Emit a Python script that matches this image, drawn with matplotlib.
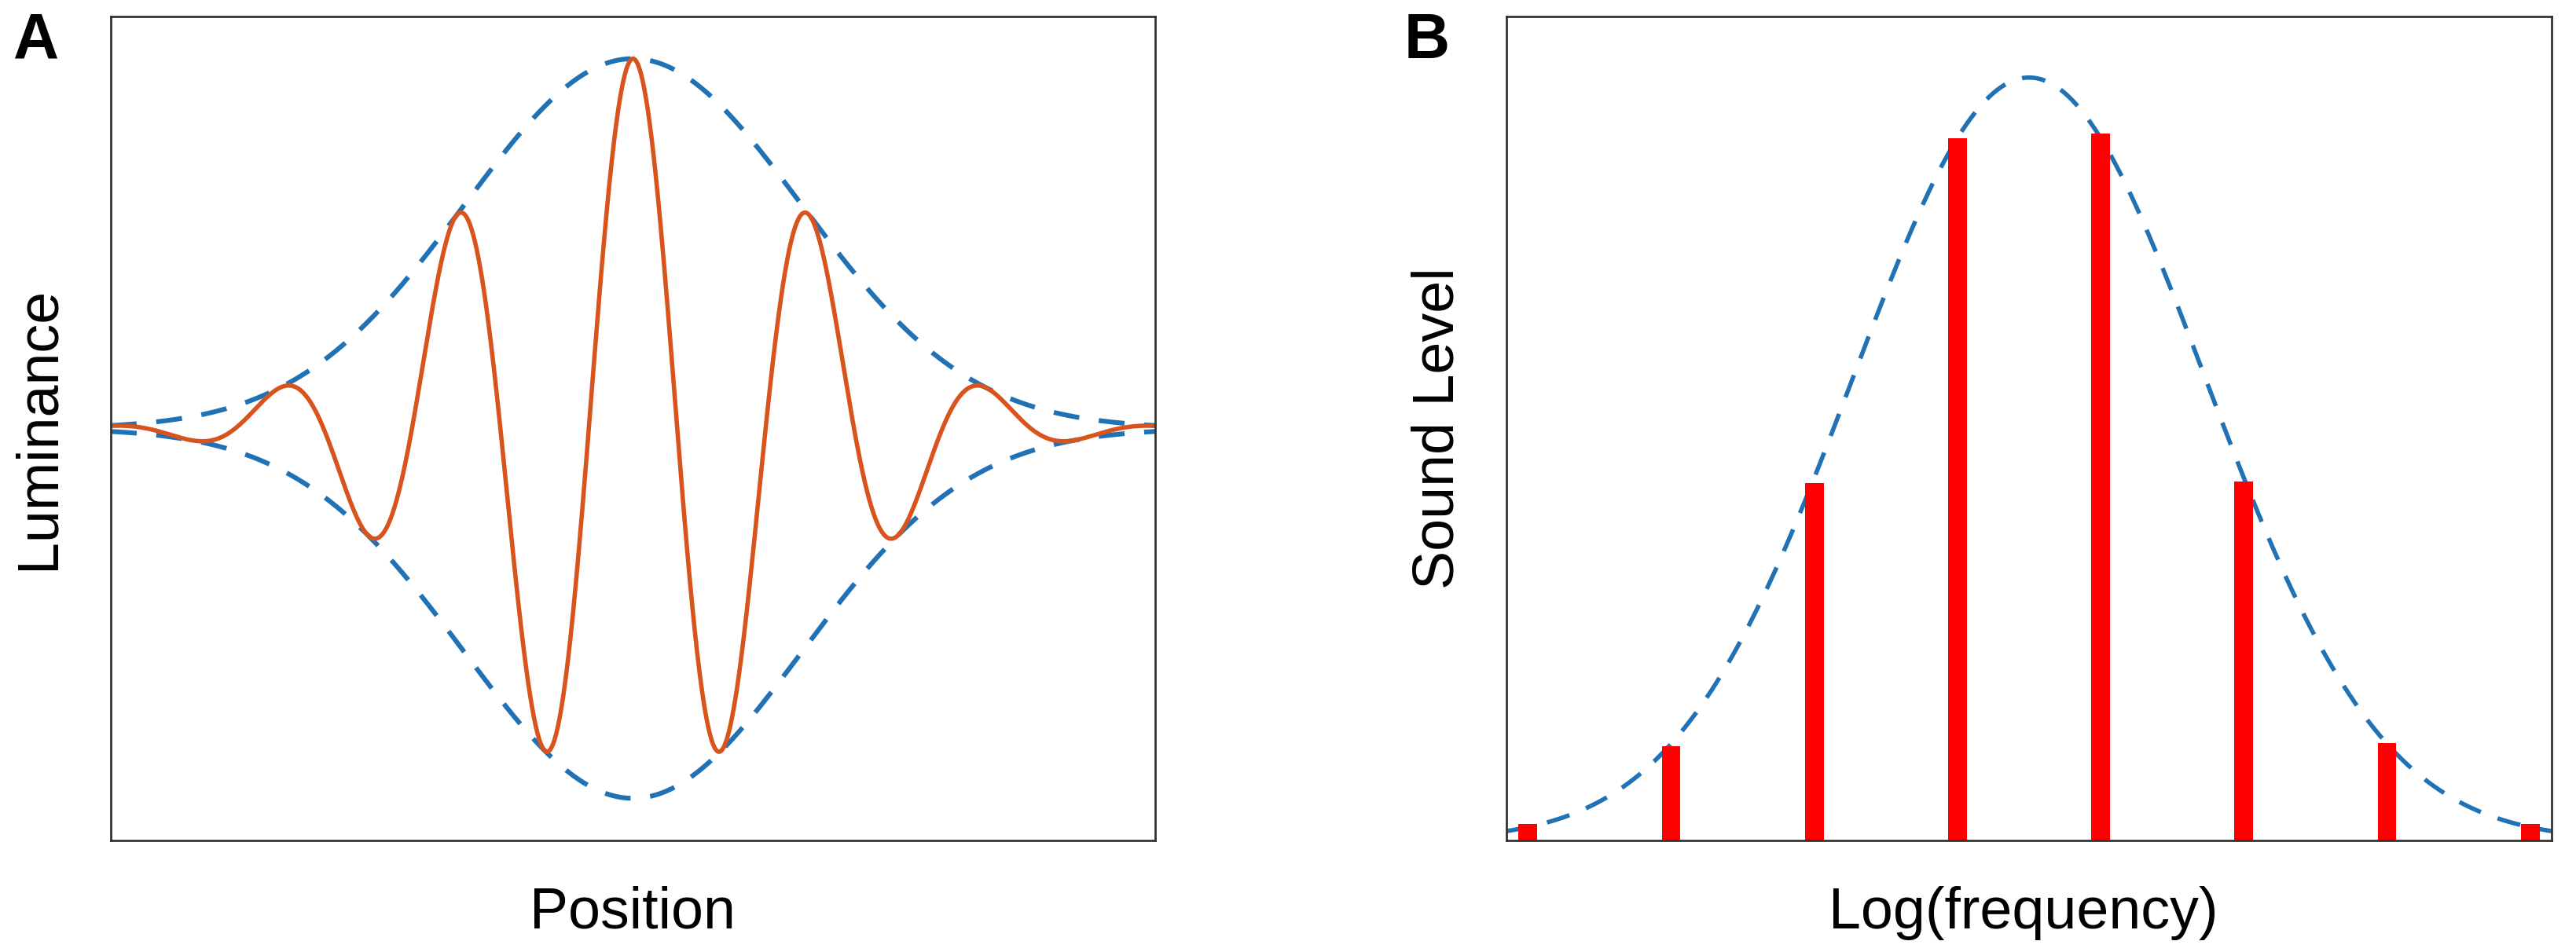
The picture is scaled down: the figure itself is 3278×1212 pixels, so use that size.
"""Two-panel schematic: Gabor luminance profile (A) and a harmonic-complex spectrum (B)."""

import numpy as np
import matplotlib

matplotlib.use("Agg")
import matplotlib.pyplot as plt  # noqa: E402

plt.rcParams["font.family"] = ["Liberation Sans", "DejaVu Sans"]

# --- panel A: Gabor patch profile (x scaled to -1..1)
gabor_center = 0.0
gabor_sigma = 0.322      # Gaussian envelope width
gabor_period = 0.3386    # carrier period
gabor_amplitude = 1.0
position_range = (-1.0, 1.0)
luminance_range = (-1.114, 1.114)

# --- panel B: spectral components (bar heights relative to envelope peak)
component_positions = [0, 1, 2, 3, 4, 5, 6, 7]
component_levels = [0.022, 0.124, 0.468, 0.920, 0.927, 0.471, 0.128, 0.022]
spectrum_center = 3.5
spectrum_sigma = 1.23
spectrum_peak = 1.0
logfreq_range = (-0.15, 7.15)
level_range = (0.0, 1.08)

BLUE = "#2171b5"
ORANGE = "#d9541c"
RED = "#ff0000"
FRAME = "#333333"

W, H, DPI = 3278, 1212, 200
fig = plt.figure(figsize=(W / DPI, H / DPI), dpi=DPI)


def px_axes(left, top, right, bottom):
    return fig.add_axes([left / W, 1 - bottom / H, (right - left) / W, (bottom - top) / H])


def style_frame(ax):
    ax.set_xticks([])
    ax.set_yticks([])
    for sp in ax.spines.values():
        sp.set_color(FRAME)
        sp.set_linewidth(1.0)


dash = (0, (5.4, 4.1))

# ---------------- panel A
ax1 = px_axes(141, 21, 1470, 1070)
x = np.linspace(*position_range, 2000)
env = gabor_amplitude * np.exp(-((x - gabor_center) ** 2) / (2 * gabor_sigma ** 2))
carrier = np.cos(2 * np.pi * (x - gabor_center) / gabor_period)
ax1.plot(x, env, color=BLUE, lw=2.2, linestyle=dash)
ax1.plot(x, -env, color=BLUE, lw=2.2, linestyle=dash)
ax1.plot(x, env * carrier, color=ORANGE, lw=2.0)
ax1.set_xlim(position_range)
ax1.set_ylim(luminance_range)
style_frame(ax1)

# ---------------- panel B
ax2 = px_axes(1917, 21, 3247, 1070)
xf = np.linspace(*logfreq_range, 1000)
spec = spectrum_peak * np.exp(-((xf - spectrum_center) ** 2) / (2 * spectrum_sigma ** 2))
ax2.plot(xf, spec, color=BLUE, lw=2.0, linestyle=dash, zorder=1)
ax2.bar(component_positions, component_levels, width=0.13, color=RED, zorder=2)
ax2.set_xlim(logfreq_range)
ax2.set_ylim(level_range)
style_frame(ax2)

# ---------------- text
label_kw = dict(fontsize=26.5, color="black")
fig.text(805 / W, 1 - 1182 / H, "Position", ha="center", va="baseline", **label_kw)
fig.text(2575 / W, 1 - 1182 / H, "Log(frequency)", ha="center", va="baseline", **label_kw)
fig.text(49 / W, 1 - 545 / H, "Luminance", ha="center", va="center", rotation=90, **label_kw)
fig.text(1830 / W, 1 - 545 / H, "Sound Level", ha="center", va="center", rotation=90, **label_kw)

fig.text(17 / W, 1 - 15 / H, "A", ha="left", va="top", fontsize=29, fontweight="bold")
fig.text(1787 / W, 1 - 15 / H, "B", ha="left", va="top", fontsize=29, fontweight="bold")

fig.savefig("out.png", dpi=DPI)
plt.close(fig)
